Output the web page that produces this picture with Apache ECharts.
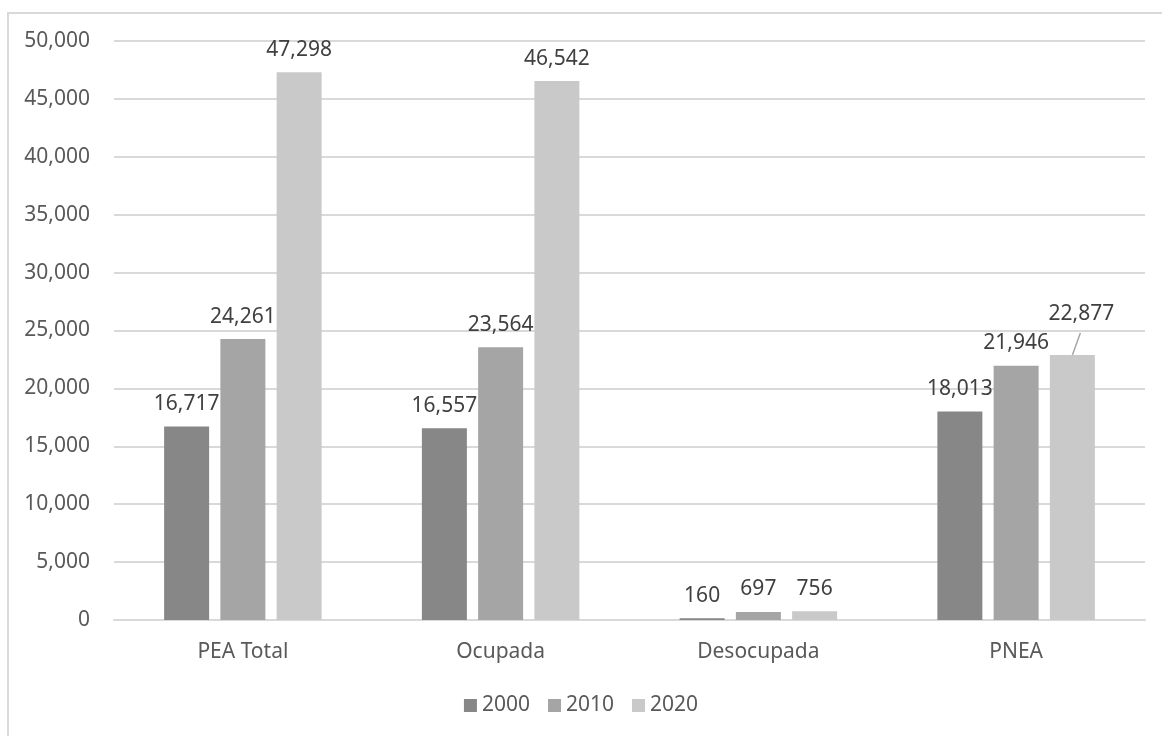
<!DOCTYPE html>
<html>
<head>
<meta charset="utf-8">
<script src="https://cdn.jsdelivr.net/npm/echarts@6/dist/echarts.min.js"></script>
<style>
html,body{margin:0;padding:0;background:#fff;}
#frame{position:absolute;left:7px;top:12px;width:1200px;height:800px;border-left:2px solid #d9d9d9;border-top:2px solid #d9d9d9;box-sizing:border-box;}
#chart{position:absolute;left:0;top:0;width:1162px;height:736px;}
</style>
</head>
<body>
<div id="frame"></div>
<div id="chart"></div>
<script>
const categories = ['PEA Total', 'Ocupada', 'Desocupada', 'PNEA'];
const seriesNames = ['2000', '2010', '2020'];
const values2000 = [16717, 16557, 160, 18013];
const values2010 = [24261, 23564, 697, 21946];
const values2020 = [47298, 46542, 756, 22877];
const yTicks = [0, 5000, 10000, 15000, 20000, 25000, 30000, 35000, 40000, 45000, 50000];
const colors = ['#878787', '#a5a5a5', '#c9c9c9'];

const FONT = 'Noto Sans';
const FS = 21;
const fmt = v => v.toLocaleString('en-US');
const MOVED = {series: 2, index: 3, dx: 9, dy: -19};

const chart = echarts.init(document.getElementById('chart'), null, {renderer: 'canvas'});

function mk(name, data, color, idx) {
  return {
    name: name,
    type: 'bar',
    data: data,
    barWidth: 45,
    barGap: '25%',
    itemStyle: {color: color},
    label: {
      show: true,
      position: 'top',
      distance: 12,
      formatter: p => fmt(p.value),
      fontFamily: FONT,
      fontSize: FS,
      color: '#404040'
    },
    labelLayout: function (p) {
      if (idx === MOVED.series && p.dataIndex === MOVED.index) {
        return {dx: MOVED.dx, dy: MOVED.dy};
      }
      return {};
    }
  };
}

chart.setOption({
  animation: false,
  backgroundColor: 'transparent',
  grid: {left: 114, right: 17, top: 41, bottom: 116, containLabel: false},
  legend: {
    data: seriesNames,
    bottom: 15,
    left: 'center',
    itemWidth: 13,
    itemHeight: 13,
    itemGap: 18,
    icon: 'rect',
    textStyle: {fontFamily: FONT, fontSize: FS, color: '#595959'}
  },
  xAxis: {
    type: 'category',
    data: categories,
    axisLine: {lineStyle: {color: '#d9d9d9', width: 2}},
    axisTick: {show: false},
    axisLabel: {fontFamily: FONT, fontSize: FS, color: '#595959', margin: 22}
  },
  yAxis: {
    type: 'value',
    min: yTicks[0],
    max: yTicks[yTicks.length - 1],
    interval: 5000,
    axisLine: {show: false},
    axisTick: {show: false},
    splitLine: {lineStyle: {color: '#d9d9d9', width: 2}},
    axisLabel: {fontFamily: FONT, fontSize: FS, color: '#595959', margin: 24, formatter: v => fmt(v)}
  },
  series: [
    mk(seriesNames[0], values2000, colors[0], 0),
    mk(seriesNames[1], values2010, colors[1], 1),
    mk(seriesNames[2], values2020, colors[2], 2)
  ]
});

// leader line for the moved label, placed from the bar layout computed by ECharts
(function () {
  const data = chart.getModel().getSeriesByIndex(MOVED.series).getData();
  const lay = data.getItemLayout(MOVED.index);
  if (!lay) return;
  const cx = lay.x + lay.width / 2;
  const top = Math.min(lay.y, lay.y + lay.height);
  chart.setOption({
    graphic: [{
      type: 'line',
      silent: true,
      z: 100,
      shape: {x1: cx + MOVED.dx - 1, y1: top - 22, x2: cx, y2: top},
      style: {stroke: '#a6a6a6', lineWidth: 1.5}
    }]
  });
})();
</script>
</body>
</html>
